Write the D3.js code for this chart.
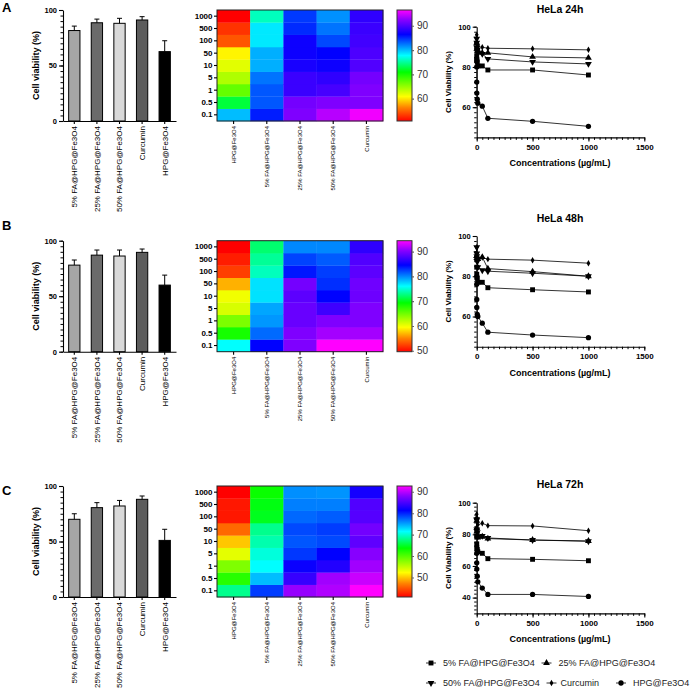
<!DOCTYPE html>
<html>
<head>
<meta charset="utf-8">
<script src="https://cdn.jsdelivr.net/npm/d3@7"></script>
<style>
  body { margin: 0; background: #fff; }
  svg { font-family: "Liberation Sans", Arial, sans-serif; }
</style>
</head>
<body>
<svg id="chart"></svg>
<script>
const width = 700;
const height = 697;

// ---- data ----
const groups = ["5% FA@HPG@Fe3O4", "25% FA@HPG@Fe3O4", "50% FA@HPG@Fe3O4", "Curcumin", "HPG@Fe3O4"];
const heatCols = ["HPG@Fe3O4", "5% FA@HPG@Fe3O4", "25% FA@HPG@Fe3O4", "50% FA@HPG@Fe3O4", "Curcumin"];
const concs = [0.1, 0.5, 1, 5, 10, 50, 100, 500, 1000];
const concLabels = ["0.1", "0.5", "1", "5", "10", "50", "100", "500", "1000"];
const panelLetters = ["A", "B", "C"];
const titles = ["HeLa 24h", "HeLa 48h", "HeLa 72h"];

// bar chart: mean viability and SD per group
const bar24 = [81.5, 88.5, 88, 91, 62.5];
const sd24 = [4, 3.3, 4.5, 3, 9.8];
const bar48 = [78, 87, 86.2, 89.5, 60];
const sd48 = [4.6, 4.6, 5.4, 3, 9];
const bar72 = [70, 80.5, 82, 88, 51];
const sd72 = [5, 4.5, 5, 3, 10];

// viability per concentration (same order as concs)
const hpg24 = [80, 72.5, 67, 64, 62, 60.5, 54.5, 53, 50.5];
const fa5_24 = [85.5, 83.5, 83.5, 82.5, 80.5, 80.5, 78.5, 78.5, 76];
const fa25_24 = [92, 91.5, 89, 89, 87.5, 87, 87, 85, 84.5];
const fa50_24 = [94, 92, 89.5, 88.5, 87, 86.5, 84, 82.5, 81.5];
const cur24 = [96, 92, 92, 91.5, 90, 89.8, 89.3, 89, 88.5];

const hpg48 = [76, 68.5, 64.5, 61, 60, 56.7, 52.2, 50.8, 49.5];
const fa5_48 = [84.5, 81, 79.5, 79, 77, 77, 74.3, 73.3, 72.2];
const fa25_48 = [90, 90, 89, 89, 88.5, 89.5, 83.8, 82.3, 80];
const fa50_48 = [94.4, 91.3, 90, 87.2, 84.5, 83, 82.5, 81.5, 80];
const cur48 = [94.4, 91.3, 90, 90, 89.2, 89.3, 88.5, 88, 86.5];

const hpg72 = [68, 62, 58, 53.5, 50, 46, 42, 42, 40.7];
const fa5_72 = [79, 74, 71.5, 70.4, 69, 68, 64.6, 64.2, 63.3];
const fa25_72 = [88.6, 84, 81.8, 79.2, 78, 78.5, 77.3, 76.4, 75.8];
const fa50_72 = [89.6, 89, 83, 81.3, 78.5, 79, 77.7, 76.4, 75.6];
const cur72 = [92.7, 90.6, 89, 88, 86, 87, 85.5, 85.3, 82.3];

// colour bar ranges and ticks
const heatRange = [[50.8, 96.5], [49.6, 94.4], [40.9, 92.7]];
const heatTicks = [[60, 70, 80, 90], [50, 60, 70, 80, 90], [50, 60, 70, 80, 90]];
// line chart y ranges and ticks
const lineRange = [[45, 100], [45, 100], [30, 100]];
const lineTicks = [[60, 80, 100], [60, 80, 100], [40, 60, 80, 100]];

const barMeans = [bar24, bar48, bar72];
const barSds = [sd24, sd48, sd72];
// series keyed by group name
const series = [
  { "5% FA@HPG@Fe3O4": fa5_24, "25% FA@HPG@Fe3O4": fa25_24, "50% FA@HPG@Fe3O4": fa50_24, "Curcumin": cur24, "HPG@Fe3O4": hpg24 },
  { "5% FA@HPG@Fe3O4": fa5_48, "25% FA@HPG@Fe3O4": fa25_48, "50% FA@HPG@Fe3O4": fa50_48, "Curcumin": cur48, "HPG@Fe3O4": hpg48 },
  { "5% FA@HPG@Fe3O4": fa5_72, "25% FA@HPG@Fe3O4": fa25_72, "50% FA@HPG@Fe3O4": fa50_72, "Curcumin": cur72, "HPG@Fe3O4": hpg72 }
];

// ---- layout ----
const rowTop = [10, 240.7, 486];
const plotH = 111;
const lineTop = [26.7, 236, 502.7];
const lineH = 110.7;
const titleY = [13, 222, 488];
const letterY = [12, 229.5, 495];

const barFill = ["#a6a6a6", "#6b6b6b", "#d9d9d9", "#5c5c5c", "#000000"];
const symbols = [d3.symbolSquare, d3.symbolTriangle, d3.symbolTriangle, d3.symbolDiamond, d3.symbolCircle];
const symSize = [24, 20, 20, 12, 22];
const symRotate = [0, 0, 180, 0, 0];

const rainbowStops = [0, 0.12, 0.22, 0.44, 0.59, 0.78, 0.91, 1];
const rainbowColors = ["#ff0000", "#ff8000", "#ffff00", "#00ff00", "#00ffff", "#0000ff", "#8800ff", "#ff00ff"];
const rainbow = d3.scaleLinear().domain(rainbowStops).range(rainbowColors).interpolate(d3.interpolateRgb).clamp(true);

const svg = d3.select("#chart")
  .attr("width", width)
  .attr("height", height);

const defs = svg.append("defs");

function styleAxis(sel, fs, bold) {
  sel.attr("font-family", null);
  sel.selectAll("text")
    .attr("font-size", fs)
    .attr("font-weight", bold ? "bold" : "normal")
    .attr("fill", "#000");
  sel.selectAll("line, path").attr("stroke", "#000").attr("stroke-width", 1.1);
}

function minorAxis(g, axis) {
  g.call(axis.tickFormat(""));
  g.select(".domain").remove();
  g.selectAll("line").attr("stroke", "#000").attr("stroke-width", 1);
}

for (let i = 0; i < 3; i++) {
  const top = rowTop[i];
  const bottom = top + plotH;

  // panel letter
  svg.append("text")
    .attr("x", 2).attr("y", letterY[i])
    .attr("font-size", 13).attr("font-weight", "bold")
    .text(panelLetters[i]);

  // ---------- bar chart ----------
  const xBar = d3.scaleBand().domain(groups).range([63, 176]).paddingInner(0.5).paddingOuter(0.25);
  const yBar = d3.scaleLinear().domain([0, 100]).range([bottom, top]);

  minorAxis(svg.append("g").attr("transform", "translate(63,0)"),
    d3.axisLeft(yBar).tickValues(d3.range(0, 101, 5)).tickSize(2.5));
  svg.append("g")
    .attr("transform", "translate(63,0)")
    .call(d3.axisLeft(yBar).tickValues([0, 50, 100]).tickSize(4).tickSizeOuter(0).tickPadding(2))
    .call(s => styleAxis(s, 7.5, true));

  const bars = groups.map((g, k) => ({ g, k, v: barMeans[i][k], sd: barSds[i][k] }));
  svg.append("g").selectAll("rect")
    .data(bars).enter().append("rect")
    .attr("x", d => xBar(d.g))
    .attr("y", d => yBar(d.v))
    .attr("width", xBar.bandwidth())
    .attr("height", d => yBar(0) - yBar(d.v))
    .attr("fill", d => barFill[d.k])
    .attr("stroke", "#000").attr("stroke-width", 1);

  const err = svg.append("g").attr("stroke", "#000").attr("stroke-width", 1);
  err.selectAll(".ev").data(bars).enter().append("line")
    .attr("x1", d => xBar(d.g) + xBar.bandwidth() / 2)
    .attr("x2", d => xBar(d.g) + xBar.bandwidth() / 2)
    .attr("y1", d => yBar(d.v))
    .attr("y2", d => yBar(d.v + d.sd));
  err.selectAll(".ec").data(bars).enter().append("line")
    .attr("x1", d => xBar(d.g) + xBar.bandwidth() / 2 - 2.5)
    .attr("x2", d => xBar(d.g) + xBar.bandwidth() / 2 + 2.5)
    .attr("y1", d => yBar(d.v + d.sd))
    .attr("y2", d => yBar(d.v + d.sd));

  svg.append("g")
    .attr("transform", `translate(0,${bottom})`)
    .call(d3.axisBottom(xBar).tickSize(3).tickSizeOuter(0))
    .call(s => styleAxis(s, 8, false))
    .selectAll("text")
    .attr("transform", "rotate(-90)")
    .attr("text-anchor", "end")
    .attr("x", -5).attr("y", 0).attr("dy", "0.35em");

  svg.append("text")
    .attr("transform", `translate(39,${(top + bottom) / 2}) rotate(-90)`)
    .attr("text-anchor", "middle")
    .attr("font-size", 9).attr("font-weight", "bold")
    .text("Cell viability (%)");

  // ---------- heatmap ----------
  const xHeat = d3.scaleBand().domain(heatCols).range([217, 383]);
  const yHeat = d3.scaleBand().domain(concLabels.slice().reverse()).range([top, bottom]);
  const cScale = d3.scaleLinear().domain(heatRange[i]).range([0, 1]);
  const cells = [];
  heatCols.forEach(col => {
    series[i][col].forEach((v, j) => cells.push({ col, row: concLabels[j], v }));
  });
  svg.append("g").selectAll("rect")
    .data(cells).enter().append("rect")
    .attr("x", d => xHeat(d.col))
    .attr("y", d => yHeat(d.row))
    .attr("width", xHeat.bandwidth() + 0.3)
    .attr("height", yHeat.bandwidth() + 0.3)
    .attr("fill", d => rainbow(cScale(d.v)));
  svg.append("rect")
    .attr("x", 217).attr("y", top)
    .attr("width", 166).attr("height", plotH)
    .attr("fill", "none").attr("stroke", "#222").attr("stroke-width", 1);

  svg.append("g")
    .attr("transform", "translate(217,0)")
    .call(d3.axisLeft(yHeat).tickSize(3).tickSizeOuter(0).tickPadding(1.5))
    .call(s => styleAxis(s, 8, true))
    .call(s => s.select(".domain").remove());

  svg.append("g")
    .attr("transform", `translate(0,${bottom})`)
    .call(d3.axisBottom(xHeat).tickSize(3).tickSizeOuter(0))
    .call(s => styleAxis(s, 6, false))
    .call(s => s.select(".domain").remove())
    .selectAll("text")
    .attr("transform", "rotate(-90)")
    .attr("text-anchor", "end")
    .attr("x", -5).attr("y", 0).attr("dy", "0.35em");

  // colour bar
  const gradId = "grad" + i;
  const grad = defs.append("linearGradient")
    .attr("id", gradId)
    .attr("x1", "0").attr("y1", "1").attr("x2", "0").attr("y2", "0");
  grad.selectAll("stop").data(rainbowStops).enter().append("stop")
    .attr("offset", d => d)
    .attr("stop-color", (d, k) => rainbowColors[k]);
  const cbY = d3.scaleLinear().domain(heatRange[i]).range([bottom, top]);
  svg.append("rect")
    .attr("x", 397).attr("y", top)
    .attr("width", 15).attr("height", plotH)
    .attr("fill", `url(#${gradId})`)
    .attr("stroke", "#333").attr("stroke-width", 1);
  const cb = svg.append("g")
    .attr("transform", "translate(412,0)")
    .call(d3.axisRight(cbY).tickValues(heatTicks[i]).tickSize(2).tickPadding(3))
    .call(s => styleAxis(s, 10, false));
  cb.select(".domain").remove();
  cb.selectAll("text").attr("fill", "#333");
  cb.selectAll("line").attr("stroke", "#666");

  // ---------- line chart ----------
  const xLine = d3.scaleLinear().domain([0, 1500]).range([476.7, 644.3]);
  const yLine = d3.scaleLinear().domain(lineRange[i]).range([lineTop[i] + lineH, lineTop[i]]);
  const ruler = lineTop[i] + lineH;

  minorAxis(svg.append("g").attr("transform", `translate(0,${ruler})`),
    d3.axisBottom(xLine).tickValues(d3.range(0, 1501, 50)).tickSize(2.5));
  svg.append("g")
    .attr("transform", `translate(0,${ruler})`)
    .call(d3.axisBottom(xLine).tickValues([0, 500, 1000, 1500]).tickFormat(d3.format("d"))
      .tickSize(4).tickSizeOuter(0).tickPadding(3))
    .call(s => styleAxis(s, 8, true));

  minorAxis(svg.append("g").attr("transform", "translate(476.7,0)"),
    d3.axisLeft(yLine).tickValues(d3.range(lineRange[i][0], 100.1, 2.5)).tickSize(2.5));
  svg.append("g")
    .attr("transform", "translate(476.7,0)")
    .call(d3.axisLeft(yLine).tickValues(lineTicks[i]).tickSize(4).tickSizeOuter(0).tickPadding(2))
    .call(s => styleAxis(s, 7.5, true));

  const line = d3.line().x(d => xLine(d.c)).y(d => yLine(d.v));
  groups.forEach((g, k) => {
    const pts = concs.map((c, j) => ({ c, v: series[i][g][j] }));
    svg.append("path")
      .datum(pts)
      .attr("d", line)
      .attr("fill", "none")
      .attr("stroke", "#000").attr("stroke-width", 0.8);
    svg.append("g").selectAll("path")
      .data(pts).enter().append("path")
      .attr("d", d3.symbol().type(symbols[k]).size(symSize[k]))
      .attr("transform", d => `translate(${xLine(d.c)},${yLine(d.v)}) rotate(${symRotate[k]})`)
      .attr("fill", "#000");
  });

  svg.append("text")
    .attr("x", 560).attr("y", titleY[i])
    .attr("text-anchor", "middle")
    .attr("font-size", 10.5).attr("font-weight", "bold")
    .text(titles[i]);

  svg.append("text")
    .attr("x", 560).attr("y", ruler + 29)
    .attr("text-anchor", "middle")
    .attr("font-size", 9).attr("font-weight", "bold")
    .text("Concentrations (µg/mL)");

  svg.append("text")
    .attr("transform", `translate(451,${lineTop[i] + lineH / 2}) rotate(-90)`)
    .attr("text-anchor", "middle")
    .attr("font-size", 8).attr("font-weight", "bold")
    .text("Cell Viability (%)");
}

// ---------- legend ----------
const legendItems = [
  { k: 0, x: 431, y: 663 },
  { k: 1, x: 546.5, y: 663 },
  { k: 2, x: 431, y: 683 },
  { k: 3, x: 551.5, y: 683 },
  { k: 4, x: 621, y: 683 }
];
const legend = svg.append("g");
legendItems.forEach(it => {
  const lg = legend.append("g").attr("transform", `translate(${it.x},${it.y})`);
  lg.append("line")
    .attr("x1", -5).attr("x2", 5)
    .attr("stroke", "#000").attr("stroke-width", 0.8);
  lg.append("path")
    .attr("d", d3.symbol().type(symbols[it.k]).size(symSize[it.k]))
    .attr("transform", `rotate(${symRotate[it.k]})`)
    .attr("fill", "#000");
  lg.append("text")
    .attr("x", it.k === 3 ? 9 : 12).attr("dy", "0.35em")
    .attr("font-size", 9)
    .attr("fill", "#222")
    .text(groups[it.k]);
});
</script>
</body>
</html>
